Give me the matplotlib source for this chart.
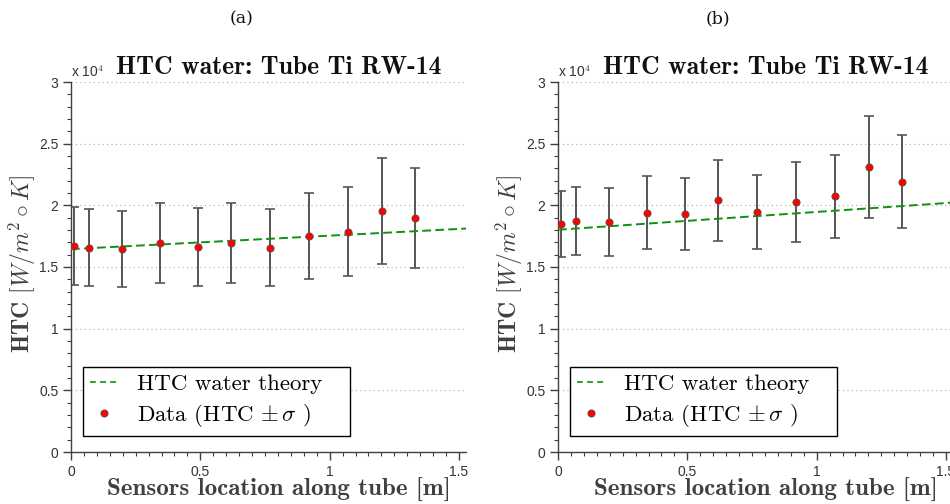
import numpy as np
import matplotlib
matplotlib.use("Agg")
import matplotlib.pyplot as plt
from matplotlib.ticker import MultipleLocator, FormatStrFormatter
from matplotlib.lines import Line2D

plt.rcParams['mathtext.fontset'] = 'cm'
plt.rcParams['axes.unicode_minus'] = False

SCALE = 1e4  # axis shown in units of 10^4 W/m^2K

# sensor positions along the tube [m]
sensor_x = [0.012, 0.069, 0.199, 0.344, 0.492, 0.617, 0.770, 0.920, 1.070, 1.204, 1.328]

# (a) measured HTC and standard deviation [W/m^2 K]
htc_a = [16700, 16570, 16460, 16950, 16620, 16950, 16570, 17520, 17840, 19550, 18950]
sig_a = [3180, 3130, 3090, 3260, 3150, 3260, 3130, 3480, 3610, 4320, 4060]
theory_x_a = [0.0, 1.53]
theory_a = [16450, 18120]

# (b) measured HTC and standard deviation [W/m^2 K]
htc_b = [18520, 18760, 18680, 19410, 19280, 20410, 19470, 20280, 20740, 23100, 21930]
sig_b = [2680, 2760, 2760, 2950, 2940, 3290, 2980, 3220, 3370, 4130, 3750]
theory_x_b = [0.0, 1.53]
theory_b = [18020, 20230]

GRAY = '#404040'
TICK_GRAY = '#333333'


def draw_panel(ax, x, htc, sig, tx, theory):
    htc = np.array(htc) / SCALE
    sig = np.array(sig) / SCALE
    ax.plot(tx, np.array(theory) / SCALE, '--', color='#109010', lw=1.4,
            dashes=(4.5, 2.2), zorder=3)
    ax.errorbar(x, htc, yerr=sig, fmt='none', ecolor='#555555', elinewidth=1.4,
                capsize=3.5, capthick=1.2, zorder=2)
    ax.plot(x, htc, 'o', color='red', mec='#555555', mew=0.6, ms=5.2, zorder=4)

    ax.set_xlim(0, 1.527)
    ax.set_ylim(0, 3)
    ax.xaxis.set_major_locator(MultipleLocator(0.5))
    ax.xaxis.set_minor_locator(MultipleLocator(0.05))
    ax.yaxis.set_major_locator(MultipleLocator(0.5))
    ax.yaxis.set_minor_locator(MultipleLocator(0.1))
    ax.xaxis.set_major_formatter(FormatStrFormatter('%g'))
    ax.yaxis.set_major_formatter(FormatStrFormatter('%g'))
    ax.tick_params(which='major', direction='out', length=6, width=1,
                   color=GRAY, labelcolor=TICK_GRAY, labelsize=10, pad=3)
    ax.tick_params(which='minor', direction='out', length=3, width=0.8, color=GRAY)
    for lab in ax.get_xticklabels() + ax.get_yticklabels():
        lab.set_family('Liberation Sans')
    ax.spines['top'].set_visible(False)
    ax.spines['right'].set_visible(False)
    for s in ('left', 'bottom'):
        ax.spines[s].set_color(GRAY)
        ax.spines[s].set_linewidth(1.0)
    ax.grid(axis='y', which='major', linestyle=(0, (1, 3)), color='#aaaaaa', lw=0.8)
    ax.set_axisbelow(True)

    ax.set_title('HTC water: Tube Ti RW-14', family='cmb10', fontsize=18.5,
                 x=0.527, pad=6, color='#111111')
    ax.text(0.0, 1.006, 'x 10$^{4}$', transform=ax.transAxes, family='Liberation Sans',
            fontsize=10, color=TICK_GRAY, va='bottom', ha='left')
    ax.set_xlabel('Sensors location along tube [m]', family='cmb10', fontsize=18,
                  color=GRAY, va='center')
    ax.xaxis.set_label_coords(0.527, -0.103)
    ax.set_ylabel(r'HTC $[W/m^2 \circ K]$', family='cmb10', fontsize=17,
                  color=GRAY, va='center')
    ax.yaxis.set_label_coords(-0.124, 0.51)

    handles = [Line2D([], [], ls='--', dashes=(3, 2.2), color='#30a030', lw=1.4),
               Line2D([], [], ls='none', marker='o', color='red', mec='#555555',
                      mew=0.6, ms=5.2)]
    leg = ax.legend(handles, ['HTC water theory', r'Data (HTC $\pm\,\sigma$ )'],
                    loc='lower left', bbox_to_anchor=(0.0296, 0.043, 0.676, 0.18),
                    mode='expand', borderaxespad=0,
                    prop={'family': 'cmr10', 'size': 16.5}, fancybox=False,
                    framealpha=1, edgecolor='black', handlelength=1.3,
                    borderpad=0.3, labelspacing=0.35, handletextpad=0.75)
    leg.get_frame().set_linewidth(1.0)


fig = plt.figure(figsize=(9.5, 5.04), dpi=100)
ax_a = fig.add_axes([71 / 950, 52 / 504, 395 / 950, 370 / 504])
ax_b = fig.add_axes([558 / 950, 52 / 504, 395 / 950, 370 / 504])

draw_panel(ax_a, sensor_x, htc_a, sig_a, theory_x_a, theory_a)
draw_panel(ax_b, sensor_x, htc_b, sig_b, theory_x_b, theory_b)

fig.text(242 / 950, 1 - 19 / 504, '(a)', family='DejaVu Serif', fontsize=12.5,
         ha='center', va='center', color='#111111')
fig.text(718 / 950, 1 - 19 / 504, '(b)', family='DejaVu Serif', fontsize=12.5,
         ha='center', va='center', color='#111111')

fig.savefig('out.png', dpi=100)
